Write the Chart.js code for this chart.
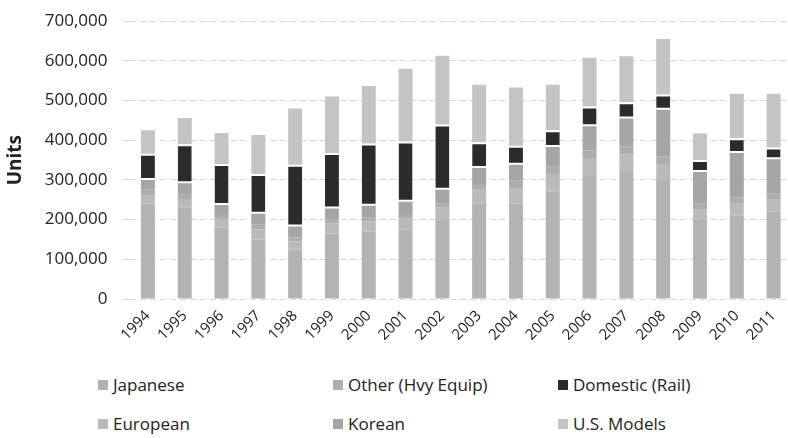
<!DOCTYPE html>
<html>
<head>
<meta charset="utf-8">
<script src="https://cdn.jsdelivr.net/npm/chart.js@4/dist/chart.umd.min.js"></script>
<style>
  html, body { margin: 0; padding: 0; background: #fff; overflow: hidden; }
  #wrap { position: absolute; left: 0; top: -5px; width: 792px; height: 349px; }
  #legend { position: absolute; left: 0; top: 373px; width: 788px; font-family: "Open Sans", sans-serif; font-size: 17px; color: #222; }
  .item { position: absolute; display: flex; align-items: center; white-space: nowrap; }
  .sw { width: 10px; height: 10px; margin-right: 5px; }
</style>
</head>
<body>
<div id="wrap"><canvas id="chart1"></canvas></div>
<div id="legend"></div>
<script>
var years = ['1994','1995','1996','1997','1998','1999','2000','2001','2002','2003','2004','2005','2006','2007','2008','2009','2010','2011'];
// units, thousands
var japanese = [240,230,180,150,125,165,170,175,200,240,240,270,310,320,300,200,210,220];
var european = [20,22,20,25,20,25,25,27,30,35,40,45,45,45,40,25,30,30];
var other    = [15,15,12,12,10,10,10,10,10,15,18,18,20,20,20,15,15,15];
var korean   = [25,25,25,28,28,28,30,33,35,40,40,50,60,70,117,80,113,87];
var domestic = [66,98,103,100,155,140,157,152,165,65,48,42,50,41,38,30,37,30];
var usModels = [59,66,78,98,142,142,145,183,173,145,147,115,123,116,140,67,112,135];
var yTicks = [0,100000,200000,300000,400000,500000,600000,700000];

function k(arr){ return arr.map(function(v){ return v*1000; }); }

var series = [
  {label:'Japanese', data:japanese, color:'#b3b3b3', col:0, row:0},
  {label:'European', data:european, color:'#bababa', col:0, row:1},
  {label:'Other (Hvy Equip)', data:other, color:'#adadad', col:1, row:0},
  {label:'Korean', data:korean, color:'#a5a5a5', col:1, row:1},
  {label:'Domestic (Rail)', data:domestic, color:'#2b2b2b', col:2, row:0},
  {label:'U.S. Models', data:usModels, color:'#c4c4c4', col:2, row:1}
];

var datasets = series.map(function(s){
  var dom = s.label == 'Domestic (Rail)';
  return {
    label: s.label,
    data: k(s.data),
    backgroundColor: s.color,
    borderColor: '#ffffff',
    borderWidth: dom ? {top:2, bottom:2, left:0, right:0} : 0,
    borderSkipped: false,
    barPercentage: 0.38,
    categoryPercentage: 1.0
  };
});

var chart1 = document.querySelector('#chart1');
new Chart(chart1, {
  type: 'bar',
  data: { labels: years, datasets: datasets },
  options: {
    responsive: true,
    maintainAspectRatio: false,
    animation: false,
    layout: { padding: { top: 0, left: 4, right: 0, bottom: 0 } },
    plugins: { legend: { display: false }, tooltip: { enabled: false } },
    scales: {
      x: {
        stacked: true,
        grid: { display: false },
        border: { display: false },
        ticks: { color: '#222', font: { family: 'Open Sans', size: 15 }, maxRotation: 45, minRotation: 45, padding: 0 }
      },
      y: {
        stacked: true,
        min: 0, max: 700000,
        afterBuildTicks: function(axis){ axis.ticks = yTicks.map(function(v){ return {value:v}; }); },
        grid: { color: '#d8d8d8', drawTicks: true, tickLength: 6 },
        border: { display: false, dash: [6,4] },
        ticks: {
          color: '#222', font: { family: 'Open Sans', size: 17 }, padding: 16,
          callback: function(v){ return v.toLocaleString('en-US'); }
        },
        title: { display: true, text: 'Units', color: '#222', font: { family: 'Open Sans', size: 19, weight: 'bold' }, padding: { top: 0, bottom: 2 } }
      }
    }
  }
});

var legend = document.querySelector('#legend');
var colX = [98, 333, 558];
var rowY = [0, 39];
var str = '';
for (let i = 0; i < series.length; i++) {
  str += "<div class='item' style='left:"+colX[series[i].col]+"px;top:"+rowY[series[i].row]+"px'>"+
    "<div class='sw' style='background:"+series[i].color+"'></div>"+series[i].label+"</div>";
}
legend.innerHTML = str;
</script>
</body>
</html>
